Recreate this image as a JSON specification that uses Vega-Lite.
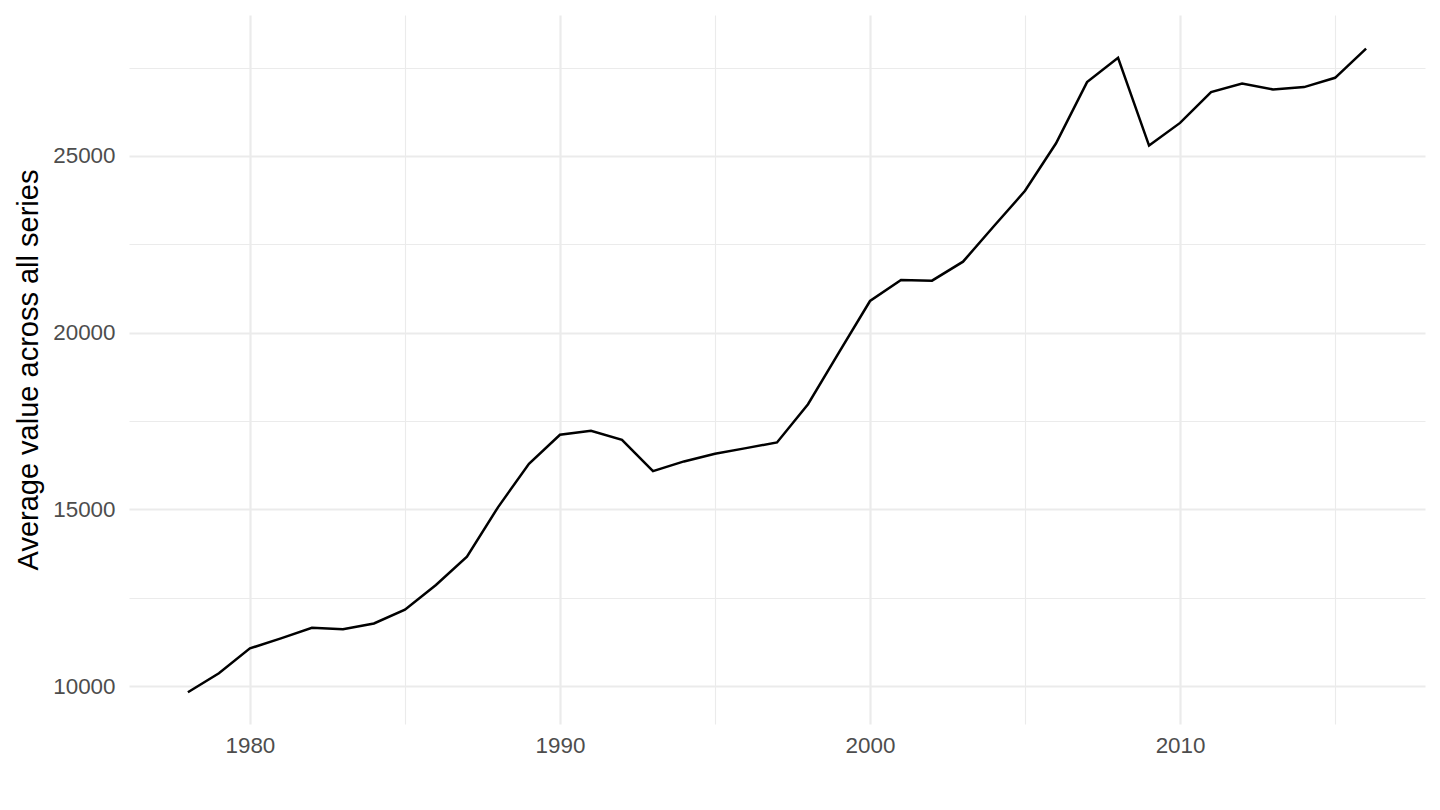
{
  "$schema": "https://vega.github.io/schema/vega-lite/v6.json",
  "width": 1296,
  "height": 709,
  "autosize": {"type": "none"},
  "padding": {"left": 129, "top": 15, "right": 15, "bottom": 86},
  "background": "white",
  "config": {
    "view": {"stroke": null},
    "font": "Liberation Sans",
    "axis": {
      "domain": false,
      "ticks": false,
      "tickSize": 0,
      "labelFont": "Liberation Sans",
      "labelFontSize": 22.4,
      "labelColor": "#4D4D4D",
      "gridColor": "#EBEBEB",
      "titleFont": "Liberation Sans",
      "titleFontSize": 29,
      "titleFontWeight": "normal",
      "titleColor": "#000000"
    }
  },
  "data": {
    "values": [
      {"year": 1978, "value": 9822},
      {"year": 1979, "value": 10359},
      {"year": 1980, "value": 11065},
      {"year": 1981, "value": 11347},
      {"year": 1982, "value": 11647},
      {"year": 1983, "value": 11610},
      {"year": 1984, "value": 11770},
      {"year": 1985, "value": 12160},
      {"year": 1986, "value": 12859},
      {"year": 1987, "value": 13660},
      {"year": 1988, "value": 15057},
      {"year": 1989, "value": 16290},
      {"year": 1990, "value": 17110},
      {"year": 1991, "value": 17223},
      {"year": 1992, "value": 16969},
      {"year": 1993, "value": 16082},
      {"year": 1994, "value": 16356},
      {"year": 1995, "value": 16573},
      {"year": 1996, "value": 16732},
      {"year": 1997, "value": 16893},
      {"year": 1998, "value": 17975},
      {"year": 1999, "value": 19440},
      {"year": 2000, "value": 20896},
      {"year": 2001, "value": 21490},
      {"year": 2002, "value": 21471},
      {"year": 2003, "value": 22009},
      {"year": 2004, "value": 23019},
      {"year": 2005, "value": 24015},
      {"year": 2006, "value": 25360},
      {"year": 2007, "value": 27090},
      {"year": 2008, "value": 27777},
      {"year": 2009, "value": 25295},
      {"year": 2010, "value": 25936},
      {"year": 2011, "value": 26808},
      {"year": 2012, "value": 27053},
      {"year": 2013, "value": 26883},
      {"year": 2014, "value": 26949},
      {"year": 2015, "value": 27213},
      {"year": 2016, "value": 28040}
    ]
  },
  "mark": {"type": "line", "color": "#000000", "strokeWidth": 2.5},
  "encoding": {
    "x": {
      "field": "year",
      "type": "quantitative",
      "scale": {"domain": [1976.1, 2017.9], "nice": false, "zero": false},
      "axis": {
        "title": null,
        "values": [1980, 1985, 1990, 1995, 2000, 2005, 2010, 2015],
        "format": "d",
        "labelExpr": "datum.value % 10 === 0 ? datum.label : ''",
        "gridWidth": {"condition": {"test": "datum.value % 10 === 0", "value": 2.2}, "value": 1.1},
        "labelPadding": 10,
        "labelFlush": false,
        "labelOverlap": false
      }
    },
    "y": {
      "field": "value",
      "type": "quantitative",
      "scale": {"domain": [8925, 28990], "nice": false, "zero": false},
      "axis": {
        "title": "Average value across all series",
        "values": [10000, 12500, 15000, 17500, 20000, 22500, 25000, 27500],
        "format": "d",
        "labelExpr": "datum.value % 5000 === 0 ? datum.label : ''",
        "gridWidth": {"condition": {"test": "datum.value % 5000 === 0", "value": 2.2}, "value": 1.1},
        "labelPadding": 14,
        "labelOverlap": false,
        "titlePadding": 9
      }
    }
  }
}
